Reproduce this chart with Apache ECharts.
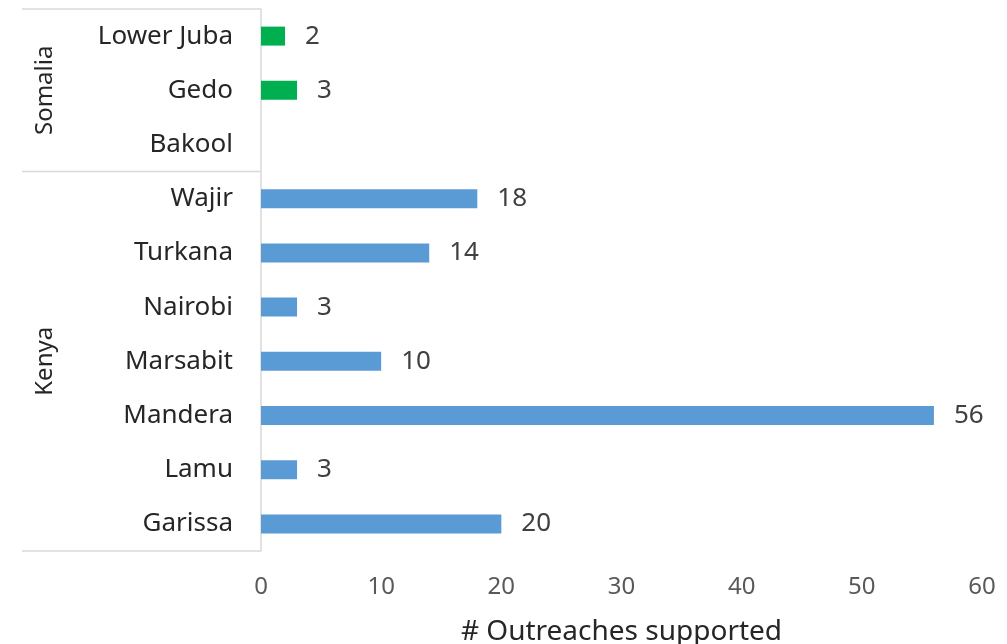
<!DOCTYPE html>
<html><head><meta charset="utf-8">
<script src="https://cdn.jsdelivr.net/npm/echarts@6/dist/echarts.min.js"></script>
<style>html,body{margin:0;padding:0;background:#fff}#c{width:1007px;height:644px}</style>
</head><body><div id="c"></div>
<script>
const categories = ['Lower Juba','Gedo','Bakool','Wajir','Turkana','Nairobi','Marsabit','Mandera','Lamu','Garissa'];
const countryOf = ['Somalia','Somalia','Somalia','Kenya','Kenya','Kenya','Kenya','Kenya','Kenya','Kenya'];
const values = [2, 3, null, 18, 14, 3, 10, 56, 3, 20];
const groupNames = ['Somalia','Kenya'];
const xMin = 0, xMax = 60, xStep = 10;
const axisTitle = '# Outreaches supported';

const countryColor = {Somalia:'#00b050', Kenya:'#5b9bd5'};
const FONT = 'Noto Sans';
const chart = echarts.init(document.getElementById('c'), null, {renderer:'canvas'});

const data = values.map((v,i)=>({value: v, itemStyle:{color: countryColor[countryOf[i]]}}));

chart.setOption({
  animation:false,
  backgroundColor:'#fff',
  grid:{left:261, right:25, top:9, bottom:93, containLabel:false, outerBoundsMode:'none'},
  xAxis:{type:'value', min:xMin, max:xMax, interval:xStep,
    axisLine:{show:false}, axisTick:{show:false}, splitLine:{show:false},
    axisLabel:{color:'#595959', fontFamily:FONT, fontSize:24, margin:24},
    name:axisTitle, nameLocation:'middle', nameGap:67,
    nameTextStyle:{color:'#262626', fontFamily:FONT, fontSize:28}},
  yAxis:{type:'category', data:categories, inverse:true,
    axisLine:{show:true, lineStyle:{color:'#d9d9d9', width:1.5}}, axisTick:{show:false},
    axisLabel:{color:'#262626', fontFamily:FONT, fontSize:26, margin:28}},
  series:[{type:'bar', data:data, barWidth:19,
    label:{show:true, position:'right', distance:20, color:'#404040', fontFamily:FONT, fontSize:26,
      formatter:p=> (p.value==null||p.value==='-')?'':String(p.value)}}]
});

function drawGroups(){
  const ys = categories.map((c,i)=>chart.convertToPixel({yAxisIndex:0}, i));
  const band = ys[1]-ys[0];
  const x0 = 22, x1 = chart.convertToPixel({xAxisIndex:0}, xMin);
  const els = [];
  const bounds = [];
  groupNames.forEach(g=>{
    const idx = countryOf.map((c,i)=>c===g?i:-1).filter(i=>i>=0);
    const top = ys[idx[0]]-band/2, bot = ys[idx[idx.length-1]]+band/2;
    bounds.push(top, bot);
    els.push({type:'text', x:45, y:(top+bot)/2, rotation:Math.PI/2,
      style:{text:g, font:'24px "'+FONT+'"', fill:'#262626', align:'center', verticalAlign:'middle'}});
  });
  [...new Set(bounds.map(b=>Math.round(b*10)/10))].forEach(b=>{
    els.push({type:'line', shape:{x1:x0, y1:b, x2:x1, y2:b}, style:{stroke:'#d9d9d9', lineWidth:1.5}});
  });
  chart.setOption({graphic:{elements:els}});
}
drawGroups();
</script></body></html>
